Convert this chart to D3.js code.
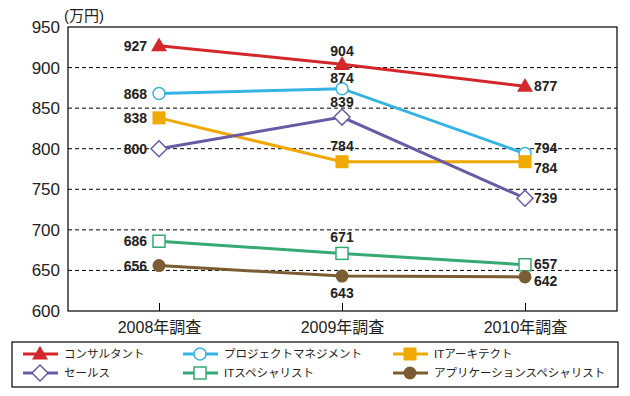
<!DOCTYPE html>
<html><head><meta charset="utf-8">
<script src="https://cdn.jsdelivr.net/npm/d3@7"></script>
<style>body{margin:0;background:#fff}svg{display:block}text{font-family:"Liberation Sans","Noto Sans CJK JP",sans-serif}</style>
</head><body><svg id="c" width="630" height="396"></svg>
<script>
const categories = ["2008年調査","2009年調査","2010年調査"];
const seriesNames = ["コンサルタント","プロジェクトマネジメント","ITアーキテクト","セールス","ITスペシャリスト","アプリケーションスペシャリスト"];
const consultant = [927,904,877];
const projectMgmt = [868,874,794];
const itArchitect = [838,784,784];
const sales = [800,839,739];
const itSpecialist = [686,671,657];
const appSpecialist = [656,643,642];
const yTicks = [600,650,700,750,800,850,900,950];
const unitLabel = "(万円)";

const colors = ["#d3272b","#35b4e4","#efa900","#6a5aa3","#35aa72","#7b5c33"];
const markers = ["triangle","circle","square","diamond","square-open","circle-filled"];
// label placement per series per point: [dx, dy, anchor]
const labelPos = [
  [[-12,0,"end"],[0,-13,"middle"],[9,0,"start"]],
  [[-12,0,"end"],[0,-11,"middle"],[9,-6,"start"]],
  [[-12,0,"end"],[0,-16,"middle"],[9,6,"start"]],
  [[-12,0,"end"],[0,-15,"middle"],[9,0,"start"]],
  [[-12,0,"end"],[0,-16,"middle"],[9,-1,"start"]],
  [[-12,0,"end"],[0,17,"middle"],[9,4,"start"]]
];
const allSeries = [consultant,projectMgmt,itArchitect,sales,itSpecialist,appSpecialist];

const svg = d3.select("#c");
const L=68,R=617,T=27,B=311;
const xs = d3.scalePoint().domain(categories).range([159,525]);
const y = d3.scaleLinear().domain([600,950]).range([B,T]);

// gridlines
svg.append("g").selectAll("line").data(yTicks.filter(v=>v>600&&v<950)).join("line")
  .attr("x1",L).attr("x2",R).attr("y1",d=>y(d)).attr("y2",d=>y(d))
  .attr("stroke","#000").attr("stroke-width",1).attr("stroke-dasharray","4,3");

// frame
svg.append("rect").attr("x",L).attr("y",T).attr("width",R-L).attr("height",B-T)
  .attr("fill","none").attr("stroke","#000").attr("stroke-width",1.2);

// y axis
const yAxis = d3.axisLeft(y).tickValues(yTicks).tickSize(0).tickPadding(8);
const ga = svg.append("g").attr("transform",`translate(${L},0)`).call(yAxis);
ga.select(".domain").remove();
ga.selectAll("text").attr("font-size",17).attr("fill","#222").attr("font-family","Liberation Sans, sans-serif");

svg.append("text").attr("x",64).attr("y",21).attr("font-size",15).attr("fill","#222").text(unitLabel);

// x axis: inward ticks + labels
const xAxis = d3.axisBottom(xs).tickSize(-8).tickPadding(0);
const gx = svg.append("g").attr("transform",`translate(0,${B})`).call(xAxis);
gx.select(".domain").remove();
gx.selectAll("text").attr("y",22).attr("dy","0").attr("font-size",16).attr("fill","#222")
  .attr("font-family","Liberation Sans, Noto Sans CJK JP, sans-serif");

function drawMarker(g,type,cx,cy,color){
  if(type==="triangle"){
    g.append("path").attr("d",d3.symbol(d3.symbolTriangle,110)()).attr("transform",`translate(${cx},${cy+1})`).attr("fill",color);
  } else if(type==="circle"){
    g.append("circle").attr("cx",cx).attr("cy",cy).attr("r",6).attr("fill","#fff").attr("stroke",color).attr("stroke-width",1.5);
  } else if(type==="circle-filled"){
    g.append("circle").attr("cx",cx).attr("cy",cy).attr("r",6.5).attr("fill",color);
  } else if(type==="square"){
    g.append("rect").attr("x",cx-6.5).attr("y",cy-6.5).attr("width",13).attr("height",13).attr("fill",color);
  } else if(type==="square-open"){
    g.append("rect").attr("x",cx-6).attr("y",cy-6).attr("width",12).attr("height",12).attr("fill","#fff").attr("stroke",color).attr("stroke-width",1.5);
  } else if(type==="diamond"){
    g.append("path").attr("d",`M${cx-8},${cy}L${cx},${cy-8}L${cx+8},${cy}L${cx},${cy+8}Z`).attr("fill","#fff").attr("stroke",color).attr("stroke-width",1.5);
  }
}

const line = d3.line().x((d,i)=>xs(categories[i])).y(d=>y(d));
allSeries.forEach((s,k)=>{
  svg.append("path").attr("d",line(s)).attr("fill","none").attr("stroke",colors[k]).attr("stroke-width",3);
});
allSeries.forEach((s,k)=>{
  const g = svg.append("g");
  s.forEach((v,i)=>{
    const cx = xs(categories[i]);
    drawMarker(g,markers[k],cx,y(v),colors[k]);
    const p = labelPos[k][i];
    g.append("text").attr("x",cx+p[0]).attr("y",y(v)+p[1]).attr("dy","0.36em")
      .attr("text-anchor",p[2]).attr("font-size",14).attr("font-weight","bold").attr("fill","#222").text(v);
  });
});

// legend
svg.append("rect").attr("x",12).attr("y",342).attr("width",606).attr("height",45).attr("fill","none").attr("stroke","#000").attr("stroke-width",1.2);
const legX=[40,200,410], legY=[354,373];
seriesNames.forEach((n,k)=>{
  const cx=legX[k%3], cy=legY[Math.floor(k/3)];
  const g=svg.append("g");
  g.append("line").attr("x1",cx-17).attr("x2",cx+18).attr("y1",cy).attr("y2",cy).attr("stroke",colors[k]).attr("stroke-width",3);
  drawMarker(g,markers[k],cx,cy,colors[k]);
  g.append("text").attr("x",cx+24).attr("y",cy).attr("dy","0.36em").attr("font-size",11.5).attr("fill","#222")
    .attr("font-family","Noto Sans CJK JP, sans-serif").text(n);
});
</script></body></html>
